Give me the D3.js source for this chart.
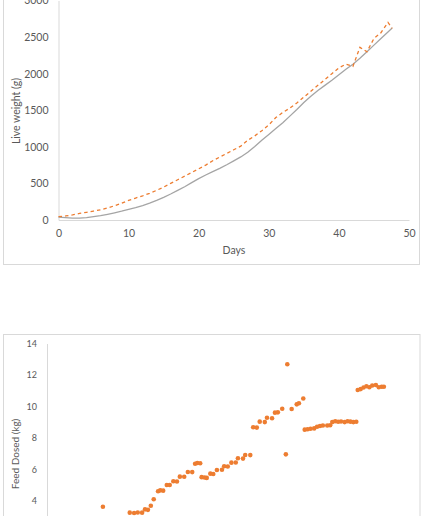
<!DOCTYPE html>
<html>
<head>
<meta charset="utf-8">
<script src="https://cdn.jsdelivr.net/npm/d3@7"></script>
<style>
  body { margin: 0; background: #fff; }
  text { font-family: Lato, "Open Sans", sans-serif; fill: #595959; }
</style>
</head>
<body>
<script>
// live weight per day (g)
var days = [0,1,2,3,4,5,6,7,8,9,10,11,12,13,14,15,16,17,18,19,20,21,22,23,24,25,26,27,28,29,30,31,32,33,34,35,36,37,38,39,40,41,42,43,44,45,46,47,47.6];
var weightSolid = [40,32,25,25,32,45,60,78,98,120,145,170,198,230,268,310,355,405,455,510,565,615,660,705,755,808,862,925,1005,1090,1170,1250,1330,1420,1510,1605,1690,1770,1840,1910,1985,2060,2130,2210,2300,2390,2480,2570,2625];
var weightDashed = [45,55,70,90,105,122,140,165,195,230,268,300,330,365,405,450,500,550,600,650,700,750,810,860,910,960,1010,1090,1150,1220,1300,1400,1470,1530,1600,1680,1760,1840,1920,2000,2080,2130,2100,2360,2300,2480,2560,2700,2620];
var weightTicks = [0,500,1000,1500,2000,2500,3000];
var dayTicks = [0,10,20,30,40,50];

// feed dosed (kg) against day
var doseDay = [7.7, 11.4,12.0,12.5,13.1, 13.5,13.9, 14.3, 14.7, 15.3,15.6,16.0, 16.5,16.9, 17.4,17.9, 18.3,18.9, 19.4,20.0,
  20.4,20.7,21.1, 21.3,21.7,22.0, 22.5,22.9, 23.4,24.1, 24.4,24.9, 25.4,26.0, 26.3,27.0, 27.3,28.0, 28.4,28.9, 29.3,30.0,
  30.3,31.0, 31.4,31.8, 32.4, 32.9, 33.1, 33.7, 34.4,34.7, 35.3, 35.5,35.9,36.3,36.8, 37.2,37.6,38.0,38.6,39.0,
  39.3,39.7,40.1,40.5,41.0,41.4,41.8,42.2,42.6, 42.8,43.2,43.6,44.0,44.4,44.8,45.3,45.7,46.1,46.4];
var doseKg = [3.62, 3.24,3.22,3.25,3.24, 3.45,3.42, 3.68, 4.09, 4.6,4.66,4.64, 5.0,5.0, 5.24,5.22, 5.53,5.52, 5.83,5.82,
  6.35,6.4,6.38, 5.5,5.48,5.45, 5.72,5.7, 5.95,5.97, 6.19,6.18, 6.42,6.43, 6.7,6.68, 6.91,6.9, 8.67,8.65, 9.03,9.0,
  9.28,9.25, 9.6,9.62, 9.85, 6.95, 12.68, 9.83, 10.13,10.2, 10.5, 8.52,8.55,8.58,8.6, 8.7,8.75,8.78,8.78,8.8,
  9.0,9.05,9.02,9.04,9.0,9.05,9.03,9.0,9.02, 11.04,11.1,11.2,11.28,11.22,11.33,11.36,11.22,11.25,11.25];
var kgTicks = [4,6,8,10,12,14];

var svg = d3.select("body").append("svg")
    .attr("width", 424)
    .attr("height", 516);

svg.append("rect").attr("width", 424).attr("height", 516).attr("fill", "#fff");

// ---- top chart ----
svg.append("rect")
    .attr("x", 3.5).attr("y", -5).attr("width", 416).attr("height", 269.5)
    .attr("fill", "none").attr("stroke", "#d9d9d9");

var x = d3.scaleLinear().domain([0, 50]).range([58.5, 409]),
    y = d3.scaleLinear().domain([0, 3000]).range([220, 0.5]);

var yAxis = svg.append("g")
    .attr("transform", "translate(" + x(0) + ",0)")
    .call(d3.axisLeft(y).tickValues(weightTicks).tickFormat(d3.format("d")).tickSize(0).tickPadding(10));
var xAxis = svg.append("g")
    .attr("transform", "translate(0," + y(0) + ")")
    .call(d3.axisBottom(x).tickValues(dayTicks).tickFormat(d3.format("d")).tickSize(0).tickPadding(10));

[yAxis, xAxis].forEach(function(g) {
  g.select(".domain").attr("stroke", "#d9d9d9");
  g.selectAll("text").attr("font-size", 10.5).attr("fill", "#595959")
    .attr("font-family", "Lato, 'Open Sans', sans-serif");
});

var line = d3.line()
    .x(function(d, i) { return x(days[i]); })
    .y(function(d) { return y(d); });

svg.append("path").datum(weightSolid)
    .attr("d", line)
    .attr("fill", "none").attr("stroke", "#a5a5a5").attr("stroke-width", 1.3);

svg.append("path").datum(weightDashed)
    .attr("d", line)
    .attr("fill", "none").attr("stroke", "#ed7d31").attr("stroke-width", 1.3)
    .attr("stroke-dasharray", "3.5,3");

svg.append("text")
    .attr("transform", "translate(17," + 111 + ") rotate(-90)")
    .attr("text-anchor", "middle")
    .attr("dominant-baseline", "middle")
    .attr("font-size", 10.5)
    .text("Live weight (g)");

svg.append("text")
    .attr("x", 234).attr("y", 251)
    .attr("text-anchor", "middle")
    .attr("dominant-baseline", "middle")
    .attr("font-size", 10.5)
    .text("Days");

// ---- bottom chart ----
svg.append("rect")
    .attr("x", 3.5).attr("y", 334.5).attr("width", 416.5).attr("height", 200)
    .attr("fill", "none").attr("stroke", "#d9d9d9");

var x2 = d3.scaleLinear().domain([0, 50]).range([47, 410]),
    y2 = d3.scaleLinear().domain([0, 14]).range([563.6, 343.5]);

var yAxis2 = svg.append("g")
    .attr("transform", "translate(" + x2(0) + ",0)")
    .call(d3.axisLeft(y2).tickValues(kgTicks).tickSize(0).tickPadding(10));
yAxis2.select(".domain").attr("stroke", "#d9d9d9");
yAxis2.selectAll("text").attr("font-size", 9).attr("fill", "#595959")
    .attr("font-family", "Lato, 'Open Sans', sans-serif");

svg.append("g").selectAll("circle")
    .data(doseKg)
  .enter().append("circle")
    .attr("cx", function(d, i) { return x2(doseDay[i]); })
    .attr("cy", function(d) { return y2(d); })
    .attr("r", 2.3)
    .attr("fill", "#ed7d31");

svg.append("text")
    .attr("transform", "translate(16," + 454 + ") rotate(-90)")
    .attr("text-anchor", "middle")
    .attr("dominant-baseline", "middle")
    .attr("font-size", 10)
    .text("Feed Dosed (kg)");
</script>
</body>
</html>
